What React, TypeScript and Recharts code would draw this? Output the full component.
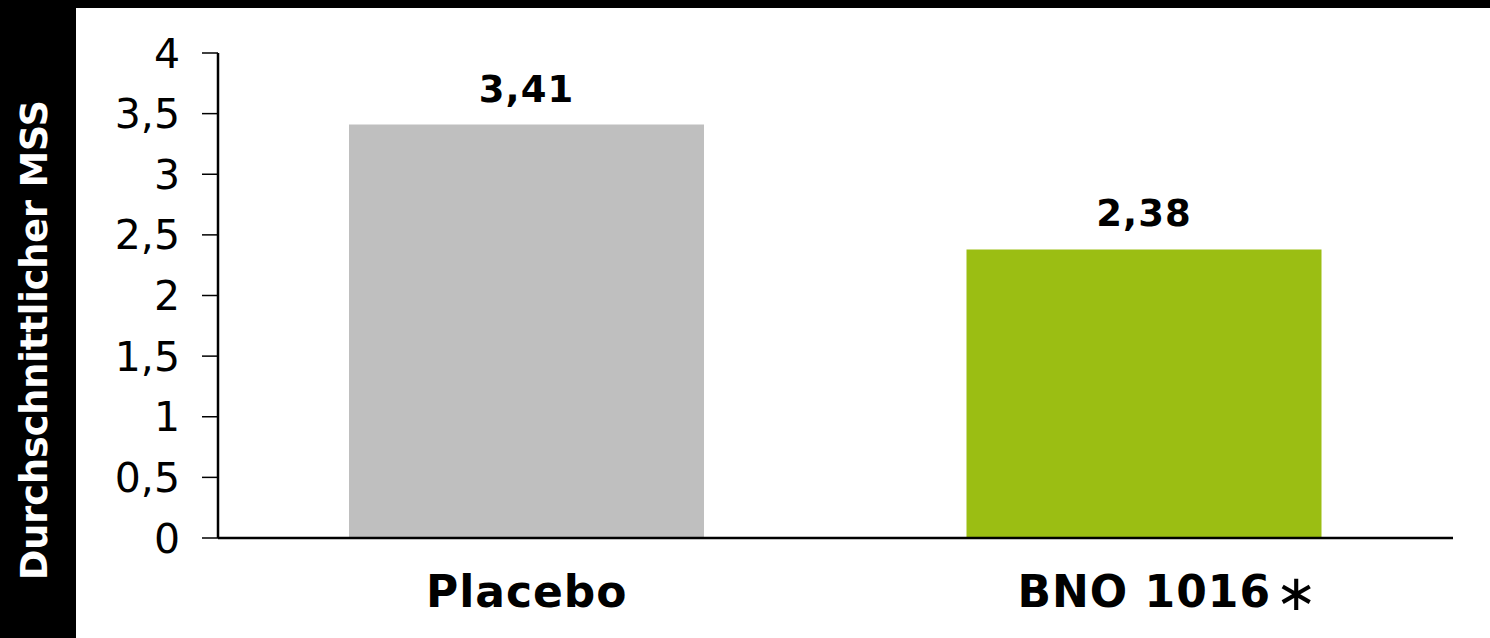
import { BarChart, Bar, XAxis, YAxis, Cell, LabelList } from "recharts";

const categories = ["Placebo", "BNO 1016"];
const values = [3.41, 2.38];
const yTicks = [0, 0.5, 1, 1.5, 2, 2.5, 3, 3.5, 4];
const barColors = ["#BFBFBF", "#9BBE13"];
const yTitle = "Durchschnittlicher MSS";
const starred = "BNO 1016";

const data = categories.map((name, i) => ({ name, value: values[i] }));

const FONT = "'DejaVu Sans', Verdana, sans-serif";
const fmt = (v: number) => String(v).replace(".", ",");

// category name centred under the bar, the asterisk hangs off to the right
const CategoryTick = ({ x, y, payload }: any) => {
  return (
    <g>
      <text
        x={x}
        y={y}
        dy={69}
        textAnchor="middle"
        fontFamily={FONT}
        fontWeight="bold"
        fontSize={44}
        letterSpacing={1}
        fill="#000"
      >
        {payload.value}
      </text>
      {payload.value === starred && (
        <text
          x={x + 152}
          y={y}
          dy={72}
          textAnchor="middle"
          fontFamily={FONT}
          fontSize={50}
          fill="#000"
        >
          ∗
        </text>
      )}
    </g>
  );
};

const App = () => {
  return (
    <div
      style={{
        position: "fixed",
        left: 0,
        top: 0,
        width: 1490,
        height: 638,
        background: "#000",
      }}
    >
      <div
        style={{
          position: "absolute",
          left: 76,
          top: 8,
          right: 0,
          bottom: 0,
          background: "#fff",
        }}
      />
      <svg
        width={76}
        height={638}
        style={{ position: "absolute", left: 0, top: 0 }}
      >
        <text
          x={47}
          y={340}
          transform="rotate(-90 47 340)"
          textAnchor="middle"
          fontFamily={FONT}
          fontWeight="bold"
          fontSize={36.5}
          fill="#fff"
        >
          {yTitle}
        </text>
      </svg>
      <div style={{ position: "absolute", left: 0, top: 0 }}>
        <BarChart
          width={1490}
          height={638}
          data={data}
          margin={{ top: 53, right: 37, bottom: 0, left: 0 }}
        >
          <XAxis
            dataKey="name"
            height={100}
            axisLine={{ stroke: "#000", strokeWidth: 2.5 }}
            tickLine={false}
            tickSize={0}
            tickMargin={0}
            tick={<CategoryTick />}
            interval={0}
          />
          <YAxis
            width={218}
            domain={[0, 4]}
            ticks={yTicks}
            interval={0}
            tickFormatter={fmt}
            axisLine={{ stroke: "#000", strokeWidth: 2.5 }}
            tickLine={{ stroke: "#000", strokeWidth: 1.5 }}
            tickSize={16}
            tickMargin={22}
            tick={{ fill: "#000", fontSize: 41, fontFamily: FONT }}
          />
          <Bar dataKey="value" barSize={355} isAnimationActive={false}>
            {data.map((d, i) => (
              <Cell key={d.name} fill={barColors[i]} />
            ))}
            <LabelList
              dataKey="value"
              position="top"
              offset={23}
              formatter={(v: any) => fmt(v)}
              style={{
                fill: "#000",
                fontSize: 37,
                fontWeight: "bold",
                fontFamily: FONT,
                letterSpacing: 1,
              }}
            />
          </Bar>
        </BarChart>
      </div>
    </div>
  );
};

export default App;
